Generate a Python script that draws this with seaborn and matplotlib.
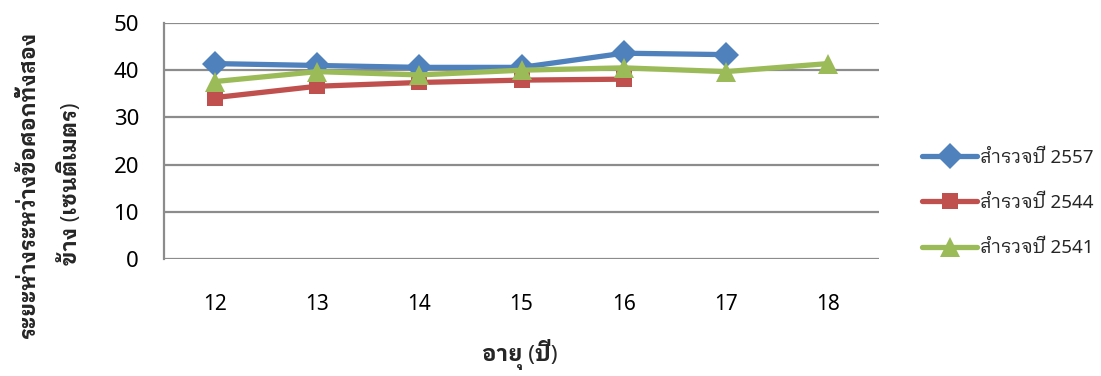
import matplotlib
matplotlib.use("Agg")
import matplotlib.pyplot as plt
import seaborn as sns
import pandas as pd

# ---- data ----
ages_2557 = [12, 13, 14, 15, 16, 17]
vals_2557 = [41.4, 41.0, 40.6, 40.6, 43.6, 43.3]
ages_2544 = [12, 13, 14, 15, 16]
vals_2544 = [34.2, 36.6, 37.4, 37.9, 38.1]
ages_2541 = [12, 13, 14, 15, 16, 17, 18]
vals_2541 = [37.6, 39.7, 39.0, 40.0, 40.5, 39.7, 41.4]
series_names = ["สำรวจปี 2557", "สำรวจปี 2544", "สำรวจปี 2541"]
x_ticks = [12, 13, 14, 15, 16, 17, 18]
y_ticks = [0, 10, 20, 30, 40, 50]
x_label = "อายุ (ปี)"
y_label = "ระยะห่างระหว่างข้อศอกทั้งสอง\nข้าง (เซนติเมตร)"

df = pd.concat([
    pd.DataFrame({"age": ages_2557, "value": vals_2557, "series": series_names[0]}),
    pd.DataFrame({"age": ages_2544, "value": vals_2544, "series": series_names[1]}),
    pd.DataFrame({"age": ages_2541, "value": vals_2541, "series": series_names[2]}),
], ignore_index=True)

sns.set_theme(style="white")
THAI = ["IBM Plex Sans Thai Looped", "Noto Sans Thai Looped", "DejaVu Sans"]
plt.rcParams["font.family"] = ["Noto Sans"] + THAI

colors = {series_names[0]: "#4F81BD", series_names[1]: "#C0504D", series_names[2]: "#9BBB59"}
markers = {series_names[0]: "D", series_names[1]: "s", series_names[2]: "^"}
msizes = {series_names[0]: 13, series_names[1]: 12, series_names[2]: 15}

fig = plt.figure(figsize=(11.01, 3.76), dpi=100)
ax = fig.add_axes([164 / 1101, 1 - 259 / 376, (879 - 164) / 1101, (259 - 23) / 376])

grid_c = "#8C8C8C"
for yt in y_ticks:
    ax.axhline(yt, color=grid_c, lw=1.6, zorder=0)

for name in series_names:
    sub = df[df["series"] == name]
    sns.lineplot(data=sub, x="age", y="value", ax=ax, color=colors[name],
                 marker=markers[name], markersize=msizes[name], markeredgewidth=0,
                 lw=3.8, label=name, legend=False, zorder=3, solid_capstyle="round")

ax.set_xlim(11.5, 18.5)
ax.set_ylim(0, 50)
ax.set_xticks(x_ticks)
ax.set_xticklabels([str(t) for t in x_ticks])
ax.set_yticks(y_ticks)
ax.tick_params(axis="x", length=0, pad=25, labelsize=15, colors="black")
ax.tick_params(axis="y", length=9, width=1.6, color=grid_c, pad=9, labelsize=16, labelcolor="black")
for s in ["top", "right", "bottom"]:
    ax.spines[s].set_visible(False)
ax.spines["left"].set_color(grid_c)
ax.spines["left"].set_linewidth(1.6)
ax.set_xlabel("")
ax.set_ylabel("")

fig.text(520 / 1101, 1 - 355 / 376, x_label, ha="center", va="center",
         fontsize=16, fontweight="bold", family=["Noto Sans"] + THAI)
fig.text(50 / 1101, 1 - 184 / 376, y_label, ha="center", va="center",
         rotation=90, fontsize=15.5, fontweight="bold", linespacing=1.95,
         multialignment="center", family=["Noto Sans"] + THAI)

h, l = ax.get_legend_handles_labels()
leg = fig.legend(h, l, loc="center left", bbox_to_anchor=(915 / 1101, 1 - 203 / 376),
                 frameon=False, fontsize=13.5, handlelength=2.9, handletextpad=0.15,
                 labelspacing=1.45, borderaxespad=0)

fig.savefig("out.png", dpi=100)
